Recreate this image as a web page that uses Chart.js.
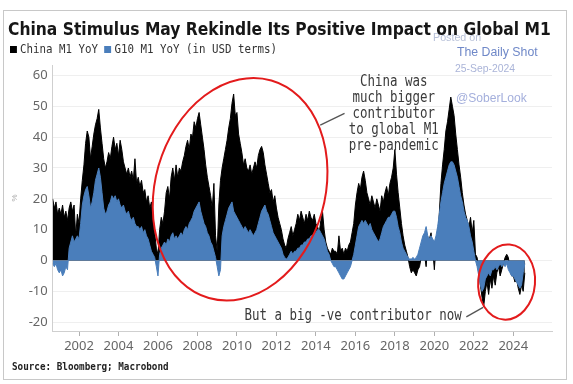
<!DOCTYPE html>
<html lang="en">
<head>
  <meta charset="UTF-8" />
  <title>China Stimulus May Rekindle Its Positive Impact on Global M1</title>
  <script src="https://cdn.jsdelivr.net/npm/chart.js"></script>
  <style>
    * { box-sizing: border-box; }
    html, body { margin: 0; padding: 0; background: #fff; }
    body { width: 573px; height: 384px; position: relative; overflow: hidden; }

    #frame {
      position: absolute; left: 3px; top: 10px;
      width: 564px; height: 370px;
      border: 1px solid #c8c8c8;
    }
    canvas { position: absolute; left: 0; top: 0; }

    /* text squeezed horizontally to the reference widths */
    .fit { position: absolute; white-space: nowrap; transform-origin: 0 50%; }
    #title {
      left: 8px; top: 19px; line-height: 20px;
      font: bold 17.5px 'DejaVu Sans', sans-serif; color: #161616;
      z-index: 3;
    }
    #legend {
      left: 10px; top: 41px; line-height: 14px;
      font: 12.5px 'DejaVu Sans Mono', monospace; color: #333;
    }
    #legend i { display: inline-block; width: 7.5px; height: 7.5px; margin-right: 4px; }
    #source {
      left: 12px; top: 361px; line-height: 12px;
      font: bold 10px 'DejaVu Sans Mono', monospace; color: #222;
    }

    /* watermark */
    .wm {
      position: absolute; white-space: nowrap; line-height: 1;
      font-family: 'Liberation Sans', Arial, sans-serif;
      z-index: 2;
    }
    #wm1 { left: 433px; top: 32px; font-size: 10.7px; color: #b7c0d8; }
    #wm2 { left: 457px; top: 46px; font-size: 12.3px; color: #6f88c8; }
    #wm3 { left: 455px; top: 64px; font-size: 10.4px; color: #aab4d8; }
    #wm4 { left: 456px; top: 92px; font-size: 12.1px; color: #a4afdc; }
  </style>
</head>
<body>
  <div id="frame"></div>
  <canvas id="chart" width="573" height="384"></canvas>

  <div class="wm" id="wm1">Posted on</div>
  <div class="wm" id="wm2">The Daily Shot</div>
  <div class="wm" id="wm3">25-Sep-2024</div>
  <div class="wm" id="wm4">@SoberLook</div>

  <div id="title" class="fit">China Stimulus May Rekindle Its Positive Impact on Global M1</div>
  <div id="legend" class="fit"><i style="background:#000"></i>China M1 YoY <i style="background:#4a7ebb"></i>G10 M1 YoY (in USD terms)</div>
  <div id="source" class="fit">Source: Bloomberg; Macrobond</div>

<script>
  // monthly readings, Sep 2000 .. Aug 2024
  const startYear = 2000;
  const startMonth = 8; // Sep

  const chinaM1 = [
    20, 17, 19, 15,
    17, 15, 18, 14, 16, 13, 17, 19, 16, 18, 8, 15,
    12, 20, 26, 31, 38, 42, 40, 33, 37, 41, 44, 46,
    49, 43, 38, 33, 30, 32, 35, 33, 37, 40, 36, 38,
    34, 39, 36, 32, 30, 28, 30, 27, 29, 26, 33, 25,
    27, 24, 26, 22, 23, 19, 21, 17, 19, 14, 9, 4,
    2, 10, 14, 12, 16, 22, 24, 20, 27, 30, 26, 31,
    27, 30, 29, 32, 34, 37, 39, 36, 41, 40, 45, 43,
    46, 48, 44, 40, 36, 31, 27, 24, 21, 17, 25, 8,
    3, 18, 26, 30, 33, 36, 39, 43, 46, 51, 54, 47,
    48, 41, 38, 35, 31, 33, 30, 29, 31, 28, 30, 32,
    30, 34, 36, 37, 35, 31, 28, 25, 22, 23, 19, 21,
    17, 14, 12, 10, 7, 5, 4, 7, 9, 11, 8, 10,
    12, 15, 13, 16, 14, 12, 15, 13, 16, 14, 13, 15,
    12, 11, 9, 13, 16, 10, 6, 4, 3, 2, 4, 3,
    3, 2, 8, 3, 4, 2, 4, 3, 5, 6, 9, 12,
    18, 22, 25, 23, 27, 29, 26, 22, 20, 18, 21, 19,
    17, 20, 18, 16, 21, 19, 22, 24, 21, 25, 27, 30,
    36, 28, 22, 17, 12, 8, 5, 3, 1, -2, -4, -3,
    -4, -5, -3, -2, 1, 3, 2, -2, 5, 7, 9, 4,
    -3, 5, 8, 15, 25, 31, 36, 42, 45, 49, 53, 50,
    47, 41, 36, 31, 27, 22, 18, 15, 13, 11, 14, 9,
    13, 2, 1, -3, -8, -12, -15, -10, -7, -11, -6, -9,
    -5, -8, -4, -2, -5, -3, -1, 1, 2, 1, -3, -5,
    -5, -7, -6, -9, -11, -8, -10, -4
  ];

  const g10M1 = [
    -1, -2, -1, -3,
    -4, -3, -5, -4, -2, -3, 4, 6, 8, 6, 7, 8,
    7, 12, 18, 21, 23, 24, 21, 17, 19, 22, 26, 28,
    30, 27, 22, 17, 15, 16, 18, 19, 21, 20, 21, 19,
    20, 18, 17, 18, 16, 15, 16, 14, 13, 14, 12, 11,
    11, 10, 11, 9, 10, 8, 7, 5, 3, 2, 1, -2,
    -5, 2, 4, 5, 6, 5, 7, 6, 8, 9, 7, 8,
    7, 8, 9, 8, 10, 11, 10, 12, 13, 14, 16, 17,
    18, 19, 16, 14, 12, 11, 9, 8, 6, 5, 3, 1,
    -2, -5, -3, 8, 11, 13, 15, 17, 18, 19, 16, 15,
    14, 13, 12, 11, 10, 11, 10, 9, 10, 9, 8, 9,
    10, 12, 14, 16, 17, 18, 16, 15, 13, 11, 9, 8,
    7, 6, 5, 4, 2, 1, 0.5, 1, 2, 3, 2, 3,
    3, 4, 4, 5, 5, 6, 6, 7, 7, 8, 8, 9,
    9, 10, 10, 9, 8, 7, 5, 3, 2, 0, -1, -2,
    -2, -3, -4, -5, -6, -6, -5, -4, -3, -2, 0, 2,
    5, 8, 11, 12, 13, 12, 13, 12, 11, 12, 10, 9,
    8, 7, 6, 7, 9, 11, 12, 13, 14, 14, 15, 16,
    16, 14, 11, 9, 6, 4, 3, 2, 1, 0.5, 0.5, 1,
    0.5, 1, 2, 4, 6, 8, 9, 11, 8, 7, 8, 7,
    6, 8, 11, 15, 19, 22, 25, 27, 29, 31, 32, 32,
    31, 29, 27, 24, 21, 19, 16, 14, 13, 11, 8, 6,
    3, 0, -2, -5, -8, -10, -9, -6, -5, -4, -5, -3,
    -3, -2, -3, -2, -1, -2, -1, -2, -1, -3, -4, -5,
    -5, -6, -7, -8, -9, -8, -4, -1
  ];

  const yearTicks = [2002, 2004, 2006, 2008, 2010, 2012, 2014, 2016, 2018, 2020, 2022, 2024];
  const valueTicks = [-20, -10, 0, 10, 20, 30, 40, 50, 60];

  const noteTop = ['China was', 'much bigger', 'contributor', 'to global M1', 'pre-pandemic'];
  const noteBottom = 'But a big -ve contributor now';

  const BLUE = '#4a7ebb';
  const RED = '#e31b1c';
  const tickFont = { family: "'Noto Sans', sans-serif", size: 13 };

  const toPoints = arr => arr.map((v, i) => ({ x: startYear + (startMonth + i) / 12, y: v }));

  // squeeze html text to the reference widths
  function fitWidth(id, w) {
    const el = document.getElementById(id);
    el.style.transform = 'scaleX(' + (w / el.offsetWidth) + ')';
  }
  fitWidth('title', 543);
  fitWidth('legend', 267);
  fitWidth('source', 157);

  function squeezedText(ctx, str, px, py, align) {
    ctx.save();
    ctx.translate(px, py);
    ctx.scale(0.83, 1);
    ctx.textAlign = align;
    ctx.fillText(str, 0, 0);
    ctx.restore();
  }

  function ring(ctx, x, y, cx, cy, hw, hh, rot) {
    const px = x.getPixelForValue(cx), py = y.getPixelForValue(cy);
    const rx = x.getPixelForValue(cx + hw) - px;
    const ry = py - y.getPixelForValue(cy + hh);
    ctx.beginPath();
    ctx.ellipse(px, py, rx, ry, rot, 0, Math.PI * 2);
    ctx.stroke();
  }

  function pointer(ctx, x, y, x0, y0, x1, y1) {
    ctx.beginPath();
    ctx.moveTo(x.getPixelForValue(x0), y.getPixelForValue(y0));
    ctx.lineTo(x.getPixelForValue(x1), y.getPixelForValue(y1));
    ctx.stroke();
  }

  const notes = {
    id: 'notes',
    afterDatasetsDraw(chart) {
      const { ctx, scales: { x, y } } = chart;
      ctx.save();

      ctx.strokeStyle = RED;
      ctx.lineWidth = 2;
      ring(ctx, x, y, 2010.16, 23.1, 4.3, 36.7, 0.28);
      ring(ctx, x, y, 2023.66, -7.0, 1.44, 12.2, 0.08);

      ctx.strokeStyle = '#555';
      ctx.lineWidth = 1.3;
      pointer(ctx, x, y, 2014.22, 43.9, 2015.45, 47.7);
      pointer(ctx, x, y, 2021.62, -18.3, 2022.47, -15.2);

      ctx.fillStyle = '#3a3a3a';
      ctx.font = "15px 'DejaVu Sans Mono', monospace";
      ctx.textBaseline = 'middle';
      const cx = x.getPixelForValue(2017.94);
      const top = y.getPixelForValue(57.9);
      noteTop.forEach((line, i) => squeezedText(ctx, line, cx, top + i * 16.1, 'center'));
      squeezedText(ctx, noteBottom, x.getPixelForValue(2021.39), y.getPixelForValue(-18.1), 'right');

      ctx.restore();
    }
  };

  const ctx = document.getElementById('chart').getContext('2d');
  new Chart(ctx, {
    type: 'line',
    data: {
      datasets: [
        {
          label: 'G10 M1 YoY (in USD terms)',
          data: toPoints(g10M1),
          borderColor: BLUE, backgroundColor: BLUE,
          borderWidth: 1, pointRadius: 0, fill: 'origin', tension: 0
        },
        {
          label: 'China M1 YoY',
          data: toPoints(chinaM1),
          borderColor: '#000', backgroundColor: '#000',
          borderWidth: 1, pointRadius: 0, fill: 'origin', tension: 0
        }
      ]
    },
    options: {
      responsive: false,
      animation: false,
      layout: { padding: { left: 8, right: 21, top: 65, bottom: 29 } },
      plugins: { legend: { display: false }, tooltip: { enabled: false } },
      scales: {
        x: {
          type: 'linear',
          min: 2000.667, max: 2025.96,
          afterBuildTicks: s => { s.ticks = yearTicks.map(v => ({ value: v })); },
          afterFit: s => { s.height = 24; },
          grid: { drawOnChartArea: false, tickLength: 5, color: '#b0b0b0' },
          border: { color: '#cfcfcf' },
          ticks: { font: tickFont, color: '#666', padding: 2, maxRotation: 0, autoSkip: false, callback: v => String(v) }
        },
        y: {
          min: -22.86, max: 63.4,
          afterBuildTicks: s => { s.ticks = valueTicks.map(v => ({ value: v })); },
          afterFit: s => { s.width = 44.7; },
          grid: { color: '#efefef', drawTicks: false },
          border: { color: '#cfcfcf' },
          ticks: { font: tickFont, color: '#666', padding: 5 },
          title: { display: true, text: '%', color: '#aaa', font: { size: 8 }, padding: 2 }
        }
      }
    },
    plugins: [notes]
  });
</script>
</body>
</html>
